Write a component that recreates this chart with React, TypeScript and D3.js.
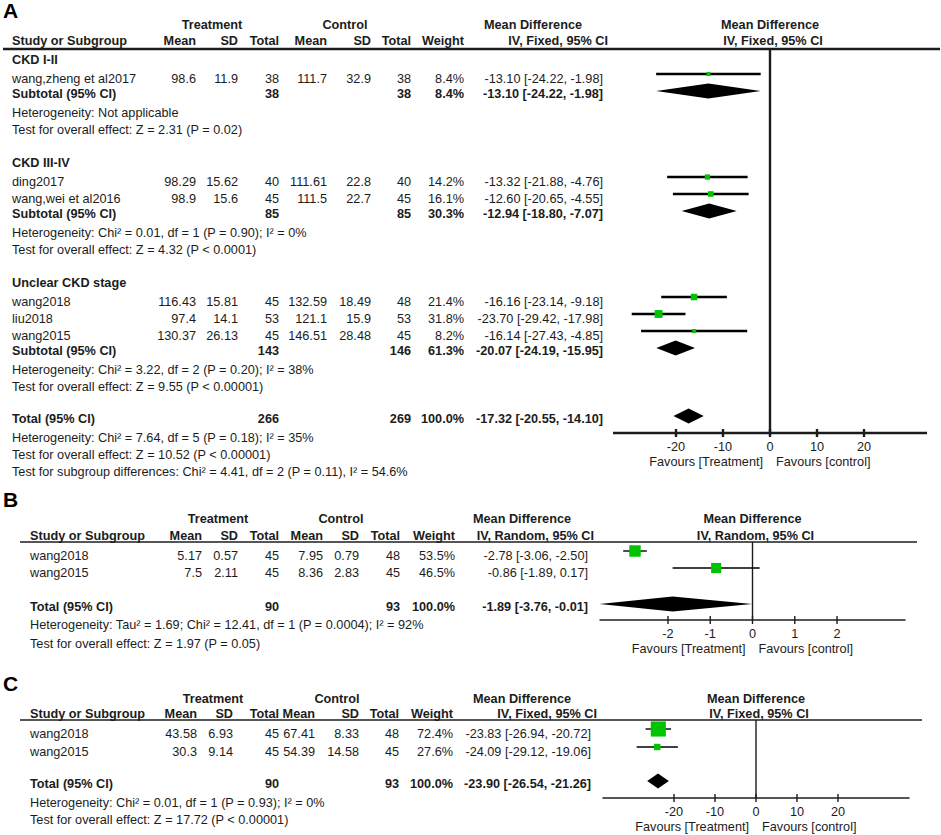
import React from "react";
import * as d3 from "d3";

// ---------- Panel A: subgroups by CKD stage ----------
const aGroups = ["CKD I-II", "CKD III-IV", "Unclear CKD stage"];
const aNames = ["wang,zheng et al2017", "ding2017", "wang,wei et al2016", "wang2018", "liu2018", "wang2015"];
const aGroupOf = [0, 1, 1, 2, 2, 2];
const aTMean = [98.6, 98.29, 98.9, 116.43, 97.4, 130.37];
const aTSD = [11.9, 15.62, 15.6, 15.81, 14.1, 26.13];
const aTN = [38, 40, 45, 45, 53, 45];
const aCMean = [111.7, 111.61, 111.5, 132.59, 121.1, 146.51];
const aCSD = [32.9, 22.8, 22.7, 18.49, 15.9, 28.48];
const aCN = [38, 40, 45, 48, 53, 45];
const aWeight = [8.4, 14.2, 16.1, 21.4, 31.8, 8.2];
const aMD = [-13.1, -13.32, -12.6, -16.16, -23.7, -16.14];
const aLo = [-24.22, -21.88, -20.65, -23.14, -29.42, -27.43];
const aHi = [-1.98, -4.76, -4.55, -9.18, -17.98, -4.85];

const aSubTN = [38, 85, 143];
const aSubCN = [38, 85, 146];
const aSubWeight = [8.4, 30.3, 61.3];
const aSubMD = [-13.1, -12.94, -20.07];
const aSubLo = [-24.22, -18.8, -24.19];
const aSubHi = [-1.98, -7.07, -15.95];
const aSubHet = [
  "Heterogeneity: Not applicable",
  "Heterogeneity: Chi² = 0.01, df = 1 (P = 0.90); I² = 0%",
  "Heterogeneity: Chi² = 3.22, df = 2 (P = 0.20); I² = 38%",
];
const aSubTest = [
  "Test for overall effect: Z = 2.31 (P = 0.02)",
  "Test for overall effect: Z = 4.32 (P < 0.0001)",
  "Test for overall effect: Z = 9.55 (P < 0.00001)",
];
const aTotal = { tN: 266, cN: 269, weight: 100, md: -17.32, lo: -20.55, hi: -14.1 };
const aTotalNotes = [
  "Heterogeneity: Chi² = 7.64, df = 5 (P = 0.18); I² = 35%",
  "Test for overall effect: Z = 10.52 (P < 0.00001)",
  "Test for subgroup differences: Chi² = 4.41, df = 2 (P = 0.11), I² = 54.6%",
];
const aTicks = [-20, -10, 0, 10, 20];

// ---------- Panel B ----------
const bNames = ["wang2018", "wang2015"];
const bTMean = [5.17, 7.5];
const bTSD = [0.57, 2.11];
const bTN = [45, 45];
const bCMean = [7.95, 8.36];
const bCSD = [0.79, 2.83];
const bCN = [48, 45];
const bWeight = [53.5, 46.5];
const bMD = [-2.78, -0.86];
const bLo = [-3.06, -1.89];
const bHi = [-2.5, 0.17];
const bTotal = { tN: 90, cN: 93, weight: 100, md: -1.89, lo: -3.76, hi: -0.01 };
const bNotes = [
  "Heterogeneity: Tau² = 1.69; Chi² = 12.41, df = 1 (P = 0.0004); I² = 92%",
  "Test for overall effect: Z = 1.97 (P = 0.05)",
];
const bTicks = [-2, -1, 0, 1, 2];

// ---------- Panel C ----------
const cNames = ["wang2018", "wang2015"];
const cTMean = [43.58, 30.3];
const cTSD = [6.93, 9.14];
const cTN = [45, 45];
const cCMean = [67.41, 54.39];
const cCSD = [8.33, 14.58];
const cCN = [48, 45];
const cWeight = [72.4, 27.6];
const cMD = [-23.83, -24.09];
const cLo = [-26.94, -29.12];
const cHi = [-20.72, -19.06];
const cTotal = { tN: 90, cN: 93, weight: 100, md: -23.9, lo: -26.54, hi: -21.26 };
const cNotes = [
  "Heterogeneity: Chi² = 0.01, df = 1 (P = 0.93); I² = 0%",
  "Test for overall effect: Z = 17.72 (P < 0.00001)",
];
const cTicks = [-20, -10, 0, 10, 20];

const FONT = "'Liberation Sans', Arial, Helvetica, sans-serif";
const FS = 12.7;
const INK = "#1c1c1c";
const GREEN = "#00c400";

const f2 = (v: number) => v.toFixed(2);
const ciText = (md: number, lo: number, hi: number) => `${f2(md)} [${f2(lo)}, ${f2(hi)}]`;
const pct = (w: number) => `${w.toFixed(1)}%`;

type Study = {
  name: string; tMean: number; tSD: number; tN: number;
  cMean: number; cSD: number; cN: number; weight: number; md: number; lo: number; hi: number;
};
type Row =
  | { type: "group"; y: number; text: string }
  | { type: "study"; y: number; s: Study }
  | { type: "sum"; y: number; label: string; tN: number; cN: number; weight: number; md: number; lo: number; hi: number }
  | { type: "note"; y: number; text: string };

function makeStudies(names: string[], tm: number[], ts: number[], tn: number[], cm: number[], cs: number[], cn: number[], w: number[], md: number[], lo: number[], hi: number[]): Study[] {
  return names.map((name, i) => ({
    name, tMean: tm[i], tSD: ts[i], tN: tn[i], cMean: cm[i], cSD: cs[i], cN: cn[i],
    weight: w[i], md: md[i], lo: lo[i], hi: hi[i],
  }));
}

const studiesA = makeStudies(aNames, aTMean, aTSD, aTN, aCMean, aCSD, aCN, aWeight, aMD, aLo, aHi);
const studiesB = makeStudies(bNames, bTMean, bTSD, bTN, bCMean, bCSD, bCN, bWeight, bMD, bLo, bHi);
const studiesC = makeStudies(cNames, cTMean, cTSD, cTN, cCMean, cCSD, cCN, cWeight, cMD, cLo, cHi);

function rowsA(): Row[] {
  const rows: Row[] = [];
  let y = 60;
  aGroups.forEach((g, gi) => {
    if (gi > 0) y += 33;
    rows.push({ type: "group", y, text: g });
    studiesA.filter((_, i) => aGroupOf[i] === gi).forEach((s, k) => {
      y += k === 0 ? 19 : 17;
      rows.push({ type: "study", y, s });
    });
    y += 15;
    rows.push({
      type: "sum", y, label: "Subtotal (95% CI)", tN: aSubTN[gi], cN: aSubCN[gi],
      weight: aSubWeight[gi], md: aSubMD[gi], lo: aSubLo[gi], hi: aSubHi[gi],
    });
    y += 19;
    rows.push({ type: "note", y, text: aSubHet[gi] });
    y += 17;
    rows.push({ type: "note", y, text: aSubTest[gi] });
  });
  y += 32;
  rows.push({ type: "sum", y, label: "Total (95% CI)", ...aTotal });
  aTotalNotes.forEach((t, i) => {
    y += i === 0 ? 19 : 17;
    rows.push({ type: "note", y, text: t });
  });
  return rows;
}

function rowsSimple(studies: Study[], total: typeof bTotal, notes: string[], y0: number, step: number, totalGap: number, noteGaps: number[]): Row[] {
  const rows: Row[] = [];
  let y = y0;
  studies.forEach((s, i) => {
    if (i > 0) y += step;
    rows.push({ type: "study", y, s });
  });
  y += totalGap;
  rows.push({ type: "sum", y, label: "Total (95% CI)", ...total });
  notes.forEach((t, i) => {
    y += noteGaps[i];
    rows.push({ type: "note", y, text: t });
  });
  return rows;
}

type PanelProps = {
  letter: string;
  letterY: number;
  h1Y: number;
  h2Y: number;
  lineY: number;
  lineX: [number, number];
  studyX: number;
  cols: number[];
  effX: number;
  treatCx: number;
  ctrlCx: number;
  md1Cx: number;
  md2End: number;
  method: string;
  rows: Row[];
  x: d3.ScaleLinear<number, number>;
  ticks: number[];
  axisY: number;
  lw: number;
  box: (w: number) => number;
};

const Panel: React.FC<PanelProps> = (p) => {
  const { x } = p;
  const zero = x(0);
  const [r0, r1] = x.range();
  const txt = (props: any, content: string, bold = false) => (
    <text fontFamily={FONT} fontSize={FS} fill={INK} fontWeight={bold ? "bold" : "normal"} {...props}>
      {content}
    </text>
  );
  const colHeads = ["Mean", "SD", "Total", "Mean", "SD", "Total", "Weight"];

  return (
    <g>
      <text x={3} y={p.letterY} fontFamily={FONT} fontSize={21} fontWeight="bold" fill="#000">
        {p.letter}
      </text>
      {/* header */}
      {txt({ x: p.treatCx, y: p.h1Y, textAnchor: "middle" }, "Treatment", true)}
      {txt({ x: p.ctrlCx, y: p.h1Y, textAnchor: "middle" }, "Control", true)}
      {txt({ x: p.md1Cx, y: p.h1Y, textAnchor: "middle" }, "Mean Difference", true)}
      {txt({ x: zero, y: p.h1Y, textAnchor: "middle" }, "Mean Difference", true)}
      {txt({ x: p.studyX, y: p.h2Y }, "Study or Subgroup", true)}
      {colHeads.map((h, i) => (
        <React.Fragment key={i}>{txt({ x: p.cols[i], y: p.h2Y, textAnchor: "end" }, h, true)}</React.Fragment>
      ))}
      {txt({ x: p.md2End, y: p.h2Y, textAnchor: "end" }, p.method, true)}
      {txt({ x: zero + 3, y: p.h2Y, textAnchor: "middle" }, p.method, true)}
      <line x1={p.lineX[0]} x2={p.lineX[1]} y1={p.lineY} y2={p.lineY} stroke={INK} strokeWidth={p.lw} />

      {/* zero line + axis */}
      <line x1={zero} x2={zero} y1={p.lineY} y2={p.axisY} stroke={INK} strokeWidth={p.lw} />
      <line x1={r0} x2={r1} y1={p.axisY} y2={p.axisY} stroke={INK} strokeWidth={p.lw} />
      {p.ticks.map((t) => (
        <g key={t}>
          <line x1={x(t)} x2={x(t)} y1={p.axisY - 4} y2={p.axisY + 4} stroke={INK} strokeWidth={p.lw} />
          {txt({ x: x(t), y: p.axisY + 18, textAnchor: "middle" }, String(t))}
        </g>
      ))}
      {txt({ x: zero - 7, y: p.axisY + 33, textAnchor: "end" }, "Favours [Treatment]")}
      {txt({ x: zero + 6, y: p.axisY + 33 }, "Favours [control]")}

      {/* rows */}
      {p.rows.map((r, i) => {
        const by = r.y + 4;
        if (r.type === "group") return <g key={i}>{txt({ x: p.studyX, y: by }, r.text, true)}</g>;
        if (r.type === "note") return <g key={i}>{txt({ x: p.studyX, y: by }, r.text)}</g>;
        if (r.type === "study") {
          const s = r.s;
          const vals = [s.tMean, s.tSD, s.tN, s.cMean, s.cSD, s.cN].map(String).concat(pct(s.weight));
          const my = r.y - 5;
          const sz = p.box(s.weight);
          return (
            <g key={i}>
              {txt({ x: p.studyX, y: by }, s.name)}
              {vals.map((v, k) => (
                <React.Fragment key={k}>{txt({ x: p.cols[k], y: by, textAnchor: "end" }, v)}</React.Fragment>
              ))}
              {txt({ x: p.effX, y: by, textAnchor: "end" }, ciText(s.md, s.lo, s.hi))}
              <line x1={x(s.lo)} x2={x(s.hi)} y1={my} y2={my} stroke="#000" strokeWidth={p.lw} />
              <rect x={x(s.md) - sz / 2} y={my - sz / 2} width={sz} height={sz} fill={GREEN} />
            </g>
          );
        }
        const dy = r.y - 3;
        const h = 7.5;
        const d = `M${x(r.lo)},${dy}L${x(r.md)},${dy - h}L${x(r.hi)},${dy}L${x(r.md)},${dy + h}Z`;
        return (
          <g key={i}>
            {txt({ x: p.studyX, y: by }, r.label, true)}
            {txt({ x: p.cols[2], y: by, textAnchor: "end" }, String(r.tN), true)}
            {txt({ x: p.cols[5], y: by, textAnchor: "end" }, String(r.cN), true)}
            {txt({ x: p.cols[6], y: by, textAnchor: "end" }, pct(r.weight), true)}
            {txt({ x: p.effX, y: by, textAnchor: "end" }, ciText(r.md, r.lo, r.hi), true)}
            <path d={d} fill="#000" />
          </g>
        );
      })}
    </g>
  );
};

export default function App() {
  const xA = d3.scaleLinear().domain([-33.4, 33.4]).range([613, 927]).clamp(true);
  const xB = d3.scaleLinear().domain([-3.62, 3.62]).range([599.5, 905.5]).clamp(true);
  const xC = d3.scaleLinear().domain([-37.45, 37.45]).range([602.5, 909.5]).clamp(true);
  const boxA = d3.scaleSqrt().domain([0, 100]).range([0, 14]);
  const boxBC = d3.scaleLinear().domain([0, 100]).range([1, 20.5]);

  const rA = rowsA();
  const rB = rowsSimple(studiesB, bTotal, bNotes, 556, 17, 34, [18, 19]);
  const rC = rowsSimple(studiesC, cTotal, cNotes, 734, 18, 32, [19, 17]);
  const totalY = (rows: Row[]) => rows.filter((r) => r.type === "sum").slice(-1)[0].y;

  return (
    <div style={{ position: "fixed", left: 0, top: 0, background: "#fff" }}>
      <svg width={941} height={835} style={{ display: "block" }}>
        <rect width={941} height={835} fill="#fff" />
        <Panel
          letter="A" letterY={18} h1Y={28.5} h2Y={45} lineY={49} lineX={[3, 940]}
          studyX={12} cols={[196, 238, 279, 327, 371, 411, 464]} effX={603}
          treatCx={212} ctrlCx={345} md1Cx={533} md2End={608} method="IV, Fixed, 95% CI"
          rows={rA} x={xA} ticks={aTicks} axisY={totalY(rA) + 14} lw={2.4} box={boxA}
        />
        <Panel
          letter="B" letterY={507} h1Y={523} h2Y={540} lineY={542} lineX={[20, 917]}
          studyX={30} cols={[202, 238, 279, 323, 359, 400, 455]} effX={588}
          treatCx={218} ctrlCx={341} md1Cx={522} md2End={594} method="IV, Random, 95% CI"
          rows={rB} x={xB} ticks={bTicks} axisY={totalY(rB) + 13} lw={1.4} box={boxBC}
        />
        <Panel
          letter="C" letterY={691} h1Y={703} h2Y={718} lineY={720} lineX={[20, 922]}
          studyX={30} cols={[197, 233, 279, 315, 359, 399, 453]} effX={591}
          treatCx={213} ctrlCx={337} md1Cx={522} md2End={597} method="IV, Fixed, 95% CI"
          rows={rC} x={xC} ticks={cTicks} axisY={totalY(rC) + 14} lw={1.4} box={boxBC}
        />
      </svg>
    </div>
  );
}
